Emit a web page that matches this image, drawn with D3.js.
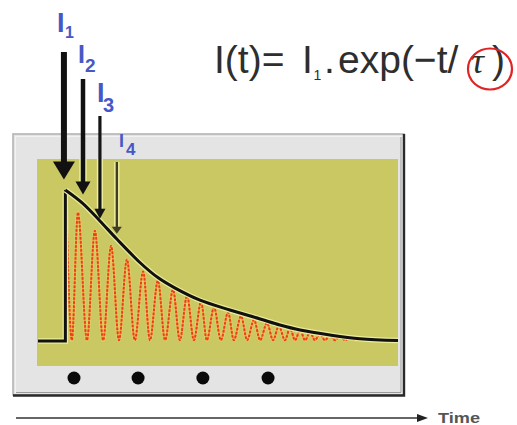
<!DOCTYPE html>
<html><head><meta charset="utf-8">
<script src="https://cdn.jsdelivr.net/npm/d3@7"></script>
<style>body{margin:0;background:#fff}svg{display:block}</style>
</head><body><svg id="c" width="517" height="425"></svg>
<script>
// ---- data (time units 0..100, intensity 0..100) ----
const stepT = [0, 7.6, 7.6];
const stepI = [0, 0, 100];
const envT = [7.6, 12.5, 17.2, 21.9, 28.3, 33.3, 38.1, 45, 53.3, 61.7, 67.2, 72.8, 81.1, 89.4, 100];
const envI = [100, 91, 79.5, 67.5, 52, 42, 35, 27, 20.5, 14.6, 10.6, 7.3, 4, 1.5, 0.3];
const peakT = [7.8, 11.1, 15.8, 20.3, 24.7, 29.2, 33.3, 37.5, 41.4, 45.3, 48.9, 52.8, 56.4, 60.0, 63.6, 66.9, 70.0, 72.8, 75.6, 78.3, 81.1, 83.9, 86.7, 89.4];
const peakI = [98, 85, 73, 63, 54, 46, 40, 34, 30, 26, 22.5, 19, 16.5, 14, 12, 10, 8.6, 7.3, 6, 4.6, 4, 3.3, 2.6, 2];
const troughT = [9.4, 13.6, 18.1, 22.5, 26.9, 31.1, 35.3, 39.4, 43.3, 46.9, 50.8, 54.4, 58.1, 61.7, 65.3, 68.6, 71.4, 74.2, 76.9, 79.7, 82.5, 85.3, 88.1, 91.1];
const troughI = [0.5, 0.5, 0.5, 0.5, 0.5, 0.5, 0.5, 0.5, 0.5, 0.5, 0.5, 0.5, 0.5, 0.5, 0.5, 0.5, 0.5, 0.5, 0.5, 0.5, 0.5, 0.5, 0.5, 0.5];
const arrowLabels = ["1", "2", "3", "4"];
const arrowT = [7.2, 12.5, 17.2, 21.9];
const arrowI = [107, 97, 81, 71];
const dotsT = [10, 27.8, 45.8, 63.9];
const formulaParts = ["I(t)=", "I", "1", ".", "exp(\u2212t/", "\u03c4", ")"];
const axisLabel = "Time";

// ---- layout ----
const svg = d3.select("#c");
svg.append("rect").attr("width", 517).attr("height", 425).attr("fill", "#fff");
const x = d3.scaleLinear().domain([0, 100]).range([38, 398]);
const y = d3.scaleLinear().domain([0, 100]).range([341, 190]);

// outer panel
svg.append("rect").attr("x", 13).attr("y", 134).attr("width", 391).attr("height", 261)
  .attr("fill", "#e4e4e4").attr("stroke", "#b4b4b4").attr("stroke-width", 1.6);
svg.append("rect").attr("x", 15.5).attr("y", 136.5).attr("width", 386).attr("height", 256)
  .attr("fill", "none").attr("stroke", "#f2f2f2").attr("stroke-width", 1);
svg.append("path").attr("d", "M404,134 L404,395.5 L13,395.5")
  .attr("fill", "none").attr("stroke", "#2a2a2a").attr("stroke-width", 2.4);
svg.append("path").attr("d", "M401,137 L401,392.5 L16,392.5")
  .attr("fill", "none").attr("stroke", "#9a9a9a").attr("stroke-width", 1);

// yellow plot
svg.append("rect").attr("x", 37).attr("y", 159).attr("width", 361).attr("height", 207)
  .attr("fill", "#c9c863");

// oscillation
const osc = [];
peakT.forEach((t, i) => { osc.push([t, peakI[i]]); osc.push([troughT[i], troughI[i]]); });
const oscLine = d3.line().x(d => x(d[0])).y(d => y(d[1])).curve(d3.curveMonotoneX);
svg.append("path").attr("d", oscLine(osc)).attr("fill", "none")
  .attr("stroke", "#efd470").attr("stroke-width", 3.5).attr("opacity", 0.6);
svg.append("path").attr("d", oscLine(osc)).attr("fill", "none")
  .attr("stroke", "#f59a3a").attr("stroke-width", 2);
svg.append("path").attr("d", oscLine(osc)).attr("fill", "none")
  .attr("stroke", "#e8401c").attr("stroke-width", 2).attr("stroke-dasharray", "2.5,1.5");

// step + envelope
const lin = d3.line().x((d, i) => x(stepT[i])).y((d, i) => y(stepI[i]));
svg.append("path").attr("d", lin(stepT)).attr("fill", "none")
  .attr("stroke", "#ecec9a").attr("stroke-width", 5.5).attr("stroke-linejoin", "miter");
svg.append("path").attr("d", lin(stepT)).attr("fill", "none")
  .attr("stroke", "#111").attr("stroke-width", 3).attr("stroke-linejoin", "miter");
const env = envT.map((t, i) => [t, envI[i]]);
const envLine = d3.line().x(d => x(d[0])).y(d => y(d[1])).curve(d3.curveCatmullRom.alpha(0.5));
svg.append("path").attr("d", envLine(env)).attr("fill", "none")
  .attr("stroke", "#ecec9a").attr("stroke-width", 5.5);
svg.append("path").attr("d", envLine(env)).attr("fill", "none")
  .attr("stroke", "#111").attr("stroke-width", 3);

// arrows
const tailY = [52, 79, 116, 162];
const shaftW = [6, 4.5, 3.2, 2.4];
const headW = [22, 15, 11, 10];
const headH = [18, 13, 10, 7];
const arrowCol = ["#111", "#111", "#151515", "#3e3e22"];
arrowT.forEach((t, i) => {
  const ax = x(t), tip = y(arrowI[i]);
  const g = svg.append("g");
  if (i > 0) {
    g.append("line").attr("x1", ax).attr("x2", ax).attr("y1", Math.max(tailY[i], 159)).attr("y2", tip - headH[i])
      .attr("stroke", "#eeee9c").attr("stroke-width", shaftW[i] + 3);
  }
  g.append("line").attr("x1", ax).attr("x2", ax).attr("y1", tailY[i]).attr("y2", tip - headH[i] + 1)
    .attr("stroke", arrowCol[i]).attr("stroke-width", shaftW[i]);
  g.append("path").attr("d", `M${ax - headW[i] / 2},${tip - headH[i]} L${ax + headW[i] / 2},${tip - headH[i]} L${ax},${tip} Z`)
    .attr("fill", arrowCol[i]);
});

// arrow labels
const lab = [
  {ix: 57, iy: 32, fs: 27, sx: 65, sy: 38, ss: 16},
  {ix: 78, iy: 63, fs: 25, sx: 85, sy: 72, ss: 19},
  {ix: 97, iy: 102, fs: 27, sx: 103, sy: 112, ss: 20},
  {ix: 119, iy: 147, fs: 18, sx: 126, sy: 155, ss: 17}
];
arrowLabels.forEach((s, i) => {
  const L = lab[i];
  const t = svg.append("text").attr("font-family", "Liberation Sans, Arial, sans-serif")
    .attr("font-weight", "bold").attr("fill", "#4758c6");
  t.append("tspan").attr("x", L.ix).attr("y", L.iy).attr("font-size", L.fs).text("I");
  t.append("tspan").attr("x", L.sx).attr("y", L.sy).attr("font-size", L.ss).text(s);
});

// dots
svg.selectAll("circle.dot").data(dotsT).join("circle").attr("class", "dot")
  .attr("cx", d => x(d)).attr("cy", 378).attr("r", 6.5).attr("fill", "#0a0a0a");

// formula
const f = svg.append("text").attr("font-family", "Liberation Sans, Arial, sans-serif")
  .attr("font-size", 39).attr("fill", "#2e2e2e");
const fx = [214, 302, 313.5, 324, 338, 471, 492];
formulaParts.forEach((p, i) => {
  const ts = f.append("tspan").attr("x", fx[i]).attr("y", i === 2 ? 80 : 73).text(p);
  if (i === 2) ts.attr("font-size", 14);
  if (i === 5) ts.attr("font-family", "Liberation Serif, Times New Roman, serif").attr("font-style", "italic").attr("font-size", 36);
});
svg.append("ellipse").attr("cx", 490).attr("cy", 69).attr("rx", 22).attr("ry", 20.5)
  .attr("fill", "none").attr("stroke", "#e02424").attr("stroke-width", 2.2);

// time axis
svg.append("line").attr("x1", 16).attr("x2", 420).attr("y1", 418).attr("y2", 418)
  .attr("stroke", "#333").attr("stroke-width", 1.6);
svg.append("path").attr("d", "M417,414 L428,418 L417,422 Z").attr("fill", "#222");
svg.append("text").attr("x", 438).attr("y", 423).attr("font-family", "Liberation Sans, Arial, sans-serif")
  .attr("font-size", 15).attr("font-weight", "bold").attr("fill", "#555")
  .attr("textLength", 42).attr("lengthAdjust", "spacingAndGlyphs").text(axisLabel);
</script></body></html>
